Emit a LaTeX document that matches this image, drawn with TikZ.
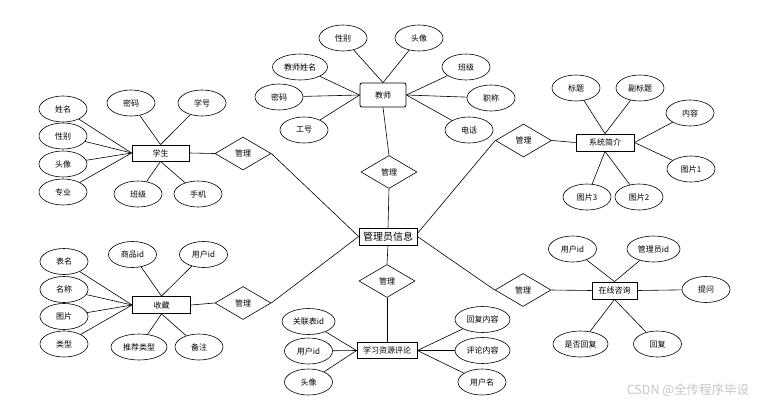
\documentclass[tikz,border=0pt]{standalone}
\usepackage{fontspec}
\setmainfont{Noto Sans CJK SC}
\usetikzlibrary{shapes.geometric}
\newcommand{\erfont}{\fontsize{8}{9}\selectfont}
\tikzset{entity/.style = {shape=rectangle,draw,line width=0.8pt,minimum height=16pt,inner sep=0pt,font=\erfont}}
\tikzset{attr/.style = {shape=ellipse,draw,line width=0.6pt,minimum width=48pt,minimum height=26pt,inner sep=0pt,font=\erfont}}
\tikzset{wide/.style = {attr,minimum width=55pt}}
\tikzset{rel/.style = {diamond,draw,line width=0.6pt,minimum width=56pt,minimum height=33pt,inner sep=0pt,font=\erfont}}
\tikzset{edge/.style = {-,line width=0.6pt}}

\begin{document}
\begin{tikzpicture}[x=1pt,y=-1pt]
            \useasboundingbox (0,0) rectangle (766,405);
            % 学生
            \node[entity,minimum width=57pt] (xs) at (160.5,153) {学生};
            \node[attr] (xs1) at (63,109) {姓名};
            \draw[edge] (xs1) -- (xs.west);
            \node[attr] (xs2) at (63,136) {性别};
            \draw[edge] (xs2) -- (xs.west);
            \node[attr] (xs3) at (63,164) {头像};
            \draw[edge] (xs3) -- (xs.west);
            \node[attr] (xs4) at (63,192) {专业};
            \draw[edge] (xs4) -- (xs.west);
            \node[attr] (xs5) at (131,103) {密码};
            \draw[edge] (xs5) -- (xs.north);
            \node[attr] (xs6) at (202,103) {学号};
            \draw[edge] (xs6) -- (xs.north);
            \node[attr] (xs7) at (138,194) {班级};
            \draw[edge] (xs7) -- (xs.south);
            \node[attr] (xs8) at (198,194) {手机};
            \draw[edge] (xs8) -- (xs.south);
            \node[rel] (r1) at (243,153.5) {管理};
            \draw[edge] (xs.east) -- (r1.west);
            % 教师
            \node[entity,rounded corners=2pt,minimum width=46pt,minimum height=24pt] (js) at (383,95) {教师};
            \node[attr] (js1) at (343,38) {性别};
            \draw[edge] (js1) -- (js.north);
            \node[attr] (js2) at (419,38) {头像};
            \draw[edge] (js2) -- (js.north);
            \node[wide] (js3) at (300,67) {教师姓名};
            \draw[edge] (js3) -- (js.west);
            \node[attr] (js4) at (279,97) {密码};
            \draw[edge] (js4) -- (js.west);
            \node[attr] (js5) at (304,130) {工号};
            \draw[edge] (js5) -- (js.west);
            \node[attr] (js6) at (466,67) {班级};
            \draw[edge] (js6) -- (js.east);
            \node[attr] (js7) at (491,98) {职称};
            \draw[edge] (js7) -- (js.east);
            \node[attr] (js8) at (469,130) {电话};
            \draw[edge] (js8) -- (js.east);
            \node[rel] (r2) at (389,172) {管理};
            \draw[edge] (js.south) -- (r2.north);
            % 系统简介
            \node[entity,minimum width=58pt,minimum height=17pt] (xt) at (605,142.5) {系统简介};
            \node[attr] (xt1) at (576,88) {标题};
            \draw[edge] (xt1) -- (xt.north);
            \node[attr] (xt2) at (640,88) {副标题};
            \draw[edge] (xt2) -- (xt.north);
            \node[attr] (xt3) at (690,113) {内容};
            \draw[edge] (xt3) -- (xt.east);
            \node[attr] (xt4) at (691,169) {图片1};
            \draw[edge] (xt4) -- (xt.east);
            \node[attr] (xt5) at (587,197) {图片3};
            \draw[edge] (xt5) -- (xt.south);
            \node[attr] (xt6) at (639,197) {图片2};
            \draw[edge] (xt6) -- (xt.south);
            \node[rel] (r3) at (523.5,140.5) {管理};
            \draw[edge] (r3.east) -- (xt.west);
            % 管理员信息
            \node[entity,minimum width=58pt,minimum height=17pt,font=\fontsize{10}{11}\selectfont] (gly) at (388,236.5) {管理员信息};
            \draw[edge] (r1.east) -- (gly.west);
            \draw[edge] (r2.south) -- (gly.north);
            \draw[edge] (r3.west) -- ([yshift=3pt]gly.east);
            \node[rel] (r4) at (387,281) {管理};
            \draw[edge] (gly.south) -- (r4.north);
            % 学习资源评论
            \node[entity,minimum width=60pt] (pl) at (387,350.5) {学习资源评论};
            \draw[edge] (r4.south) -- (pl.north);
            \node[attr,minimum width=53pt] (pl1) at (308.5,321.5) {关联表id};
            \draw[edge] (pl1) -- (pl.west);
            \node[attr] (pl2) at (308.5,351) {用户id};
            \draw[edge] (pl2) -- (pl.west);
            \node[attr] (pl3) at (308.5,382) {头像};
            \draw[edge] (pl3) -- (pl.west);
            \node[wide] (pl4) at (482.5,319.5) {回复内容};
            \draw[edge] (pl4) -- (pl.east);
            \node[wide] (pl5) at (482.5,350.5) {评论内容};
            \draw[edge] (pl5) -- (pl.east);
            \node[attr] (pl6) at (482,382) {用户名};
            \draw[edge] (pl6) -- (pl.east);
            % 收藏
            \node[entity,minimum width=58pt,minimum height=17pt] (sc) at (161.5,305) {收藏};
            \node[attr] (sc1) at (64,261.5) {表名};
            \draw[edge] (sc1) -- (sc.west);
            \node[attr] (sc2) at (64,289.5) {名称};
            \draw[edge] (sc2) -- (sc.west);
            \node[attr] (sc3) at (64,316.5) {图片};
            \draw[edge] (sc3) -- (sc.west);
            \node[attr] (sc4) at (64,344) {类型};
            \draw[edge] (sc4) -- (sc.west);
            \node[attr] (sc5) at (132.5,254.5) {商品id};
            \draw[edge] (sc5) -- (sc.north);
            \node[attr] (sc6) at (203.5,254.5) {用户id};
            \draw[edge] (sc6) -- (sc.north);
            \node[wide,minimum width=56pt] (sc7) at (139,347) {推荐类型};
            \draw[edge] (sc7) -- (sc.south);
            \node[attr] (sc8) at (199,347) {备注};
            \draw[edge] (sc8) -- (sc.south);
            \node[rel] (r5) at (243,303) {管理};
            \draw[edge] (sc.east) -- (r5.west);
            \draw[edge] (r5.east) -- (gly.west);
            % 在线咨询
            \node[entity,minimum width=45pt,minimum height=17pt] (zx) at (614.5,290.5) {在线咨询};
            \node[attr] (zx1) at (572.5,249) {用户id};
            \draw[edge] (zx1) -- (zx.north);
            \node[attr,minimum width=53pt] (zx2) at (653.5,249) {管理员id};
            \draw[edge] (zx2) -- (zx.north);
            \node[attr] (zx3) at (706,289.5) {提问};
            \draw[edge] (zx3) -- (zx.east);
            \node[wide] (zx4) at (580.5,344) {是否回复};
            \draw[edge] (zx4) -- (zx.south);
            \node[attr] (zx5) at (657.5,344) {回复};
            \draw[edge] (zx5) -- (zx.south);
            \node[rel] (r6) at (523,290) {管理};
            \draw[edge] (r6.east) -- (zx.west);
            \draw[edge] (r6.west) -- (gly.east);
            \node[text=gray!45,font=\fontsize{12.5}{13}\selectfont] (wm) at (688,390.5) {CSDN @全传程序毕设};
        \end{tikzpicture}
\end{document}
